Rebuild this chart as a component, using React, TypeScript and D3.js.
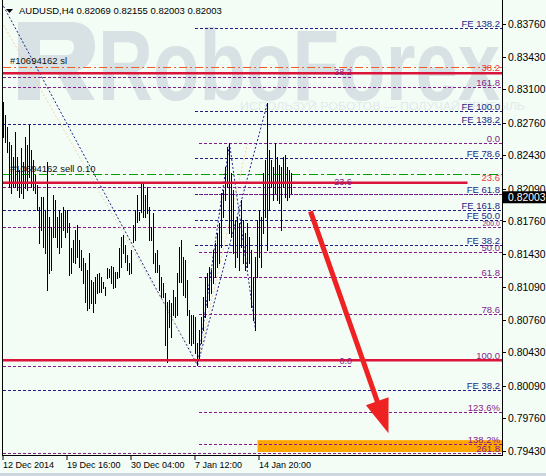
import React from "react";
import * as d3 from "d3";

const W = 546;
const H = 476;

// AUDUSD H4 bars, high / low per bar (oldest first)
const highs = [
  0.8297, 0.8284, 0.8272, 0.8256, 0.8253, 0.8241, 0.8266, 0.8241, 0.8228, 0.825,
  0.8236, 0.8261, 0.8253, 0.8274, 0.8248, 0.8238, 0.8223, 0.8213, 0.819, 0.8201,
  0.8201, 0.8187, 0.8236, 0.818, 0.817, 0.8203, 0.8198, 0.818, 0.8187, 0.8184,
  0.819, 0.8187, 0.8187, 0.8174, 0.8149, 0.8157, 0.8167, 0.8172, 0.8157, 0.8147,
  0.8139, 0.8134, 0.8127, 0.8144, 0.8116, 0.8114, 0.8119, 0.8122, 0.8123, 0.8119,
  0.8114, 0.8109, 0.8129, 0.8128, 0.8131, 0.813, 0.8125, 0.8125, 0.8149, 0.816,
  0.8162, 0.8152, 0.8142, 0.8134, 0.8147, 0.8172, 0.8187, 0.8203, 0.8185, 0.8215,
  0.8215, 0.8203, 0.8211, 0.819, 0.817, 0.8184, 0.8144, 0.8147, 0.8132, 0.8119,
  0.8113, 0.8103, 0.8094, 0.8096, 0.8093, 0.8106, 0.8099, 0.8123, 0.815, 0.8157,
  0.814, 0.8137, 0.8116, 0.8086, 0.8081, 0.8081, 0.8079, 0.8053, 0.8066, 0.8079,
  0.8099, 0.8119, 0.8123, 0.813, 0.8127, 0.8147, 0.8154, 0.8164, 0.8174, 0.8205,
  0.8208, 0.8231, 0.8251, 0.8255, 0.8225, 0.8208, 0.8177, 0.818, 0.8174, 0.8198,
  0.8177, 0.8164, 0.8174, 0.816, 0.8147, 0.8119, 0.814, 0.8177, 0.8187, 0.818,
  0.8225, 0.8238, 0.8296, 0.8248, 0.8238, 0.8231, 0.8255, 0.8241, 0.8233, 0.8231,
  0.8241, 0.8243, 0.8231, 0.8228, 0.8225,
];
const lows = [
  0.8261, 0.8256, 0.8246, 0.8211, 0.8205, 0.8211, 0.8211, 0.8208, 0.8201, 0.8205,
  0.82, 0.821, 0.8208, 0.8221, 0.8211, 0.8208, 0.8205, 0.8187, 0.8154, 0.8167,
  0.815, 0.8144, 0.8106, 0.8123, 0.8127, 0.816, 0.816, 0.815, 0.8144, 0.815,
  0.8167, 0.816, 0.8165, 0.8121, 0.8123, 0.8135, 0.8134, 0.814, 0.813, 0.8127,
  0.8113, 0.8094, 0.8086, 0.8088, 0.8093, 0.8084, 0.8093, 0.8103, 0.8104, 0.8104,
  0.8108, 0.8101, 0.8118, 0.8119, 0.8113, 0.8108, 0.8109, 0.8118, 0.8119, 0.813,
  0.8144, 0.8135, 0.8127, 0.8122, 0.8123, 0.8155, 0.8157, 0.8175, 0.8177, 0.8185,
  0.818, 0.818, 0.8184, 0.8157, 0.8157, 0.8134, 0.8125, 0.8125, 0.8106, 0.8099,
  0.8099, 0.805, 0.8033, 0.8069, 0.8059, 0.8081, 0.8079, 0.8081, 0.8114, 0.8114,
  0.8101, 0.8099, 0.8081, 0.8053, 0.805, 0.8053, 0.8042, 0.803, 0.8035, 0.8053,
  0.8066, 0.8079, 0.8089, 0.8096, 0.8103, 0.8113, 0.8119, 0.813, 0.8134, 0.815,
  0.818, 0.8198, 0.8211, 0.8164, 0.816, 0.8144, 0.813, 0.814, 0.8127, 0.815,
  0.8134, 0.8127, 0.813, 0.8134, 0.8089, 0.8076, 0.8066, 0.8119, 0.814, 0.813,
  0.8164, 0.818, 0.8147, 0.8187, 0.8211, 0.8198, 0.8205, 0.8198, 0.8194, 0.8167,
  0.8211, 0.8201, 0.8198, 0.8201, 0.8205,
];

const header = "AUDUSD,H4  0.82069 0.82155 0.82003 0.82003";
const lastPrice = 0.82003;
const priceTicks = [
  0.8376, 0.8343, 0.831, 0.8276, 0.8243, 0.8209, 0.8176, 0.8143, 0.8109, 0.8076,
  0.8043, 0.8009, 0.7976, 0.7943,
];
const timeTickBars = [0, 32, 64, 96, 128];
const timeLabels = ["12 Dec 2014", "19 Dec 16:00", "30 Dec 04:00", "7 Jan 12:00", "14 Jan 20:00"];

// [price, label, first bar]
const feLevels: [number, string, number][] = [
  [0.8372, "FE 138.2", 96],
  [0.8288, "FE 100.0", 96],
  [0.8275, "FE 138.2", 0],
  [0.824, "FE 78.6", 96],
  [0.8204, "FE 61.8", 96],
  [0.8187, "FE 161.8", 0],
  [0.8177, "FE 50.0", 96],
  [0.8152, "FE 38.2", 96],
  [0.8005, "FE 38.2", 0],
];
const fiboLevels: [number, string, number][] = [
  [0.8312, "161.8", 0],
  [0.8255, "0.0", 98],
  [0.8204, "", 98],
  [0.817, "200.0", 0],
  [0.8145, "50.0", 98],
  [0.8119, "61.8", 98],
  [0.8082, "78.6", 98],
  [0.8035, "100.0", 98],
  [0.7983, "123.6%", 98],
  [0.795, "138.2%", 98],
  [0.7941, "261.8", 0],
];
// [price, label, last bar]
const redLevels: [number, string, number][] = [
  [0.8326, "38.2", 250],
  [0.8215, "23.6", 232],
  [0.8035, "", 250],
];
const shortLevels: [number, string][] = [
  [0.8322, "38.2"],
  [0.8211, "23.6"],
  [0.8029, "0.0"],
];
const shortLevelEnd = 174.2;
const slOrder: [number, string] = [0.8332, "#10694162 sl"];
const sellOrder: [number, string] = [0.8224, "#10694162 sell 0.10"];
const targetZone = [0.7954, 0.7942];
const targetStartBar = 127;
const arrowFrom: [number, number] = [153.5, 0.8186];
const arrowTo: [number, number] = [192.5, 0.7961];
const feWaves: [number, number][][] = [
  [[0, 0.8394], [97, 0.803]],
  [[97, 0.803], [113, 0.8255], [126, 0.8066]],
  [[97, 0.803], [132, 0.8296]],
];
const fiboWave: [number, number][] = [[0, 0.8375], [97, 0.8033], [122, 0.8255]];

const FONT = "'Liberation Sans', Arial, sans-serif";
const NAVY = "#1f1f86";
const PURPLE = "#861c8a";
const CRIMSON = "#dc143c";
const BG = "#f3fdf6";

const App = () => {
  const left = 3;
  const right = 502;
  const bottom = 455;
  const x = d3.scaleLinear().domain([0, 144]).range([3.5, 291.5]);
  const y = d3.scaleLinear().domain([0.7943, 0.8376]).range([451, 24]);
  const py = (p: number) => Math.round(y(p)) + 0.5;
  const edgeBar = x.invert(right);

  const line = d3
    .line<[number, number]>()
    .x((d) => x(d[0]))
    .y((d) => y(d[1]));

  // arrow geometry
  const ax0 = x(arrowFrom[0]);
  const ay0 = y(arrowFrom[1]);
  const ax1 = x(arrowTo[0]);
  const ay1 = y(arrowTo[1]);
  const len = Math.hypot(ax1 - ax0, ay1 - ay0);
  const ux = (ax1 - ax0) / len;
  const uy = (ay1 - ay0) / len;
  const headLen = 34;
  const headW = 12;
  const bx = ax1 - ux * headLen;
  const by = ay1 - uy * headLen;
  const head = `M${ax1},${ay1} L${bx - uy * headW},${by + ux * headW} L${bx + uy * headW},${by - ux * headW} Z`;

  const barPath = highs
    .map((h, i) => `M${x(i)},${Math.round(y(h))}V${Math.round(y(lows[i])) + 1}`)
    .join("");

  const lastY = y(lastPrice);

  return (
    <div style={{ position: "absolute", left: 0, top: 0 }}>
      <svg width={W} height={H} style={{ display: "block" }} fontFamily={FONT}>
        <rect x={0} y={0} width={W} height={H} fill={BG} />
        <defs>
          <clipPath id="plot">
            <rect x={left} y={0} width={right - left} height={bottom} />
          </clipPath>
        </defs>

        {/* watermark */}
        <g fill="#d8e1e3">
          <path
            fillRule="evenodd"
            d="M18,22 H70 C88,22 95,32 95,46 C95,60 87,68 77,71 L95,100 H72 L57,73 H40 V100 H18 Z M40,40 H67 C72,40 74,43 74,47 C74,51 72,55 67,55 H40 Z"
          />
          <text x={98} y={100} fontSize={100} fontWeight="bold" textLength={402} lengthAdjust="spacingAndGlyphs">
            RoboForex
          </text>
          <text x={240} y={110} fontSize={10} fill="#e2eaea" textLength={285} lengthAdjust="spacingAndGlyphs">
            ИСПОЛЬЗУЙ РОБОТОВ — ПОЛУЧАЙ ПРИБЫЛЬ
          </text>
        </g>

        <g clipPath="url(#plot)">
          {/* target zone */}
          <rect
            x={x(targetStartBar)}
            y={y(targetZone[0])}
            width={right - x(targetStartBar)}
            height={y(targetZone[1]) - y(targetZone[0])}
            fill="#ffa500"
          />

          {feLevels.map(([p, , b], i) => (
            <line key={"fe" + i} x1={x(b) - 0.5} x2={right} y1={py(p)} y2={py(p)} stroke={NAVY} strokeDasharray="3,2" />
          ))}
          {fiboLevels.map(([p, , b], i) => (
            <line key={"fb" + i} x1={x(b) - 0.5} x2={right} y1={py(p)} y2={py(p)} stroke={PURPLE} strokeDasharray="3,2" />
          ))}
          {shortLevels.map(([p], i) => (
            <line key={"sh" + i} x1={left} x2={x(shortLevelEnd)} y1={py(p)} y2={py(p)} stroke={PURPLE} strokeDasharray="3,2" />
          ))}
          <line x1={left} x2={right} y1={py(slOrder[0])} y2={py(slOrder[0])} stroke="#ff5a1e" strokeDasharray="8,3,2,3" />
          <line x1={left} x2={right} y1={py(sellOrder[0])} y2={py(sellOrder[0])} stroke="#00a000" strokeDasharray="9,3,3,3" />

          {feWaves.map((w, i) => (
            <path key={"w" + i} d={line(w) || ""} fill="none" stroke={NAVY} strokeDasharray="2,2" />
          ))}
          <path d={line(fiboWave) || ""} fill="none" stroke="#ffcf9e" strokeDasharray="2,2" />

          <path d={barPath} stroke="#000" strokeWidth={1} shapeRendering="crispEdges" />

          {redLevels.map(([p, , b], i) => (
            <line key={"rd" + i} x1={left} x2={Math.min(x(b), right)} y1={y(p)} y2={y(p)} stroke={CRIMSON} strokeWidth={2.6} />
          ))}

          {/* arrow */}
          <line x1={ax0} y1={ay0} x2={bx + ux * 2} y2={by + uy * 2} stroke="#ee2222" strokeWidth={5} />
          <path d={head} fill="#ee2222" />
        </g>

        {/* labels */}
        <g fontSize={9.5}>
          {feLevels.map(([p, t], i) => (
            <text key={"fel" + i} x={500} y={py(p) - 2} textAnchor="end" fill={NAVY}>
              {t}
            </text>
          ))}
          {fiboLevels.map(([p, t], i) =>
            t ? (
              <text
                key={"fbl" + i}
                x={500}
                y={py(p) - 2}
                textAnchor="end"
                fill={PURPLE}
                fontSize={t === "200.0" ? 7 : 9.5}
              >
                {t}
              </text>
            ) : null
          )}
          {redLevels.map(([p, t], i) =>
            t ? (
              <text key={"rdl" + i} x={500} y={py(p) - 3} textAnchor="end" fill="#ee3a3a">
                {t}
              </text>
            ) : null
          )}
          {shortLevels.map(([p, t], i) => (
            <text key={"shl" + i} x={x(shortLevelEnd)} y={py(p) - 3} textAnchor="end" fill={PURPLE} fontSize={9}>
              {t}
            </text>
          ))}
          <text x={10} y={py(slOrder[0]) - 4} fill="#111">
            {slOrder[1]}
          </text>
          <text x={10} y={py(sellOrder[0]) - 3} fill="#111">
            {sellOrder[1]}
          </text>
        </g>

        {/* header */}
        <path d="M6,9 L13,9 L9.5,13 Z" fill="#000" />
        <text x={19} y={14} fontSize={9.5} fill="#000">
          {header}
        </text>

        {/* frame */}
        <line x1={2.5} x2={2.5} y1={0} y2={bottom} stroke="#000" />
        <line x1={2} x2={right} y1={bottom + 0.5} y2={bottom + 0.5} stroke="#000" />
        <line x1={right + 0.5} x2={right + 0.5} y1={0} y2={bottom + 1} stroke="#000" />

        {/* price axis */}
        <g fontSize={10.4} fill="#000">
          {priceTicks.map((p) => (
            <g key={p}>
              <line x1={right} x2={right + 4} y1={py(p)} y2={py(p)} stroke="#000" />
              <text x={508} y={py(p)} dy="0.35em">
                {p.toFixed(5)}
              </text>
            </g>
          ))}
          <rect x={right + 1} y={lastY - 6} width={W - right} height={12} fill="#000" />
          <text x={508} y={lastY} dy="0.35em" fill="#fff">
            {lastPrice.toFixed(5)}
          </text>
        </g>

        {/* time axis */}
        <g fontSize={9} fill="#000">
          {timeTickBars.map((b, i) => (
            <g key={b}>
              <line x1={x(b) - 0.5} x2={x(b) - 0.5} y1={bottom} y2={bottom + 5} stroke="#000" />
              <text x={x(b) - 0.5} y={468}>
                {timeLabels[i]}
              </text>
            </g>
          ))}
        </g>
        <rect x={0} y={473} width={W} height={3} fill="#cdd6de" />
      </svg>
    </div>
  );
};

export default App;
